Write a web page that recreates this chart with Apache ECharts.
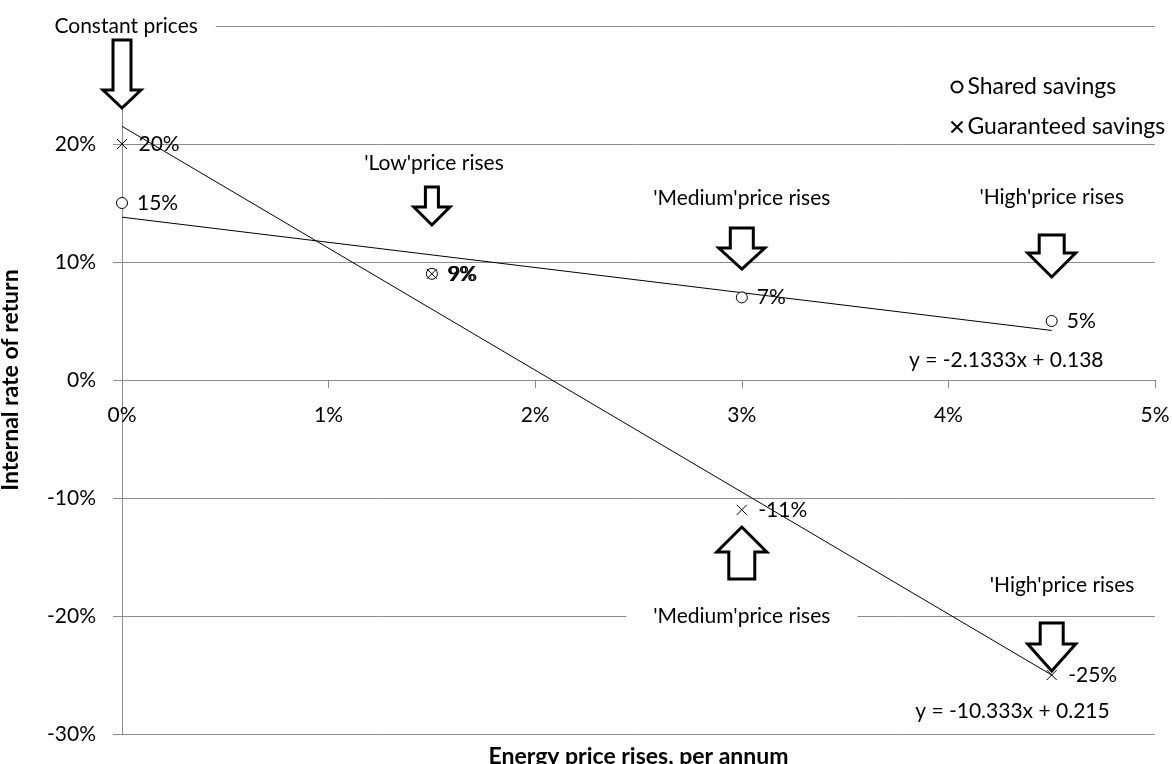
<!DOCTYPE html>
<html>
<head>
<meta charset="utf-8">
<script src="https://cdn.jsdelivr.net/npm/echarts@6/dist/echarts.min.js"></script>
<style>
  html, body { margin: 0; padding: 0; background: #fff; }
  #chart { width: 1172px; height: 764px; }
</style>
</head>
<body>
<div id="chart"></div>
<script>
// Energy price rise scenarios (per annum) and the resulting internal rates of return
const priceRises = [0, 0.015, 0.03, 0.045];
const sharedSavings = [0.15, 0.09, 0.07, 0.05];
const guaranteedSavings = [0.20, 0.09, -0.11, -0.25];

// Linear trend lines as stated by their equations
const sharedTrend = { slope: -2.1333, intercept: 0.138, label: 'y = -2.1333x + 0.138' };
const guaranteedTrend = { slope: -10.333, intercept: 0.215, label: 'y = -10.333x + 0.215' };

// Axis ranges and tick spacing: [min, max, interval]
const yRange = [-0.3, 0.3, 0.1];
const xRange = [0, 0.05, 0.01];

const FONT = 'Lato, "Open Sans", sans-serif';
const TEXT_SIZE = 21;
const LEGEND_SIZE = 23;
const TITLE_SIZE = 23;
const GRID_GREY = '#8c8c8c';
const crossPath = 'path://M0 0L10 10M10 0L0 10';

const pct = v => Math.round(v * 100) + '%';

function trendPoints(t) {
  const x0 = priceRises[0], x1 = priceRises[priceRises.length - 1];
  return [[x0, t.intercept + t.slope * x0], [x1, t.intercept + t.slope * x1]];
}

const chart = echarts.init(document.getElementById('chart'));

const labelStyle = {
  show: true,
  position: 'right',
  distance: 9,
  fontFamily: FONT,
  fontSize: TEXT_SIZE,
  color: '#000',
  opacity: 1,
  formatter: p => pct(p.value[1])
};

chart.setOption({
  animation: false,
  grid: { left: 122, right: 17, top: 26, bottom: 30, outerBoundsMode: 'none', containLabel: false },
  legend: {
    orient: 'vertical',
    left: 944,
    top: 70,
    itemWidth: 11,
    itemHeight: 11,
    itemGap: 16,
    data: ['Shared savings', 'Guaranteed savings'],
    textStyle: { fontFamily: FONT, fontSize: LEGEND_SIZE, lineHeight: 24, color: '#000' }
  },
  xAxis: {
    type: 'value',
    min: xRange[0], max: xRange[1], interval: xRange[2],
    axisLine: { onZero: false, lineStyle: { color: GRID_GREY, width: 1 } },
    axisTick: { show: true, length: 8, lineStyle: { color: GRID_GREY } },
    axisLabel: { margin: 25, formatter: pct, fontFamily: FONT, fontSize: TEXT_SIZE, color: '#000' },
    splitLine: { show: false }
  },
  yAxis: {
    type: 'value',
    min: yRange[0], max: yRange[1], interval: yRange[2],
    name: 'Internal rate of return',
    nameLocation: 'middle',
    nameGap: 100,
    nameTextStyle: { fontFamily: FONT, fontSize: TITLE_SIZE, fontWeight: 'bold', color: '#000' },
    axisLine: { show: true, lineStyle: { color: GRID_GREY, width: 1 } },
    axisTick: { show: true, length: 9, lineStyle: { color: GRID_GREY } },
    axisLabel: {
      margin: 26,
      fontFamily: FONT, fontSize: TEXT_SIZE, color: '#000',
      formatter: v => (Math.abs(v - yRange[1]) < 1e-9 ? '' : pct(v))
    },
    splitLine: { show: true, lineStyle: { color: GRID_GREY, width: 1 } }
  },
  series: [
    {
      name: 'Shared savings trend',
      type: 'line',
      data: trendPoints(sharedTrend),
      showSymbol: false,
      silent: true,
      lineStyle: { color: '#000', width: 1 },
      z: 3
    },
    {
      name: 'Guaranteed savings trend',
      type: 'line',
      data: trendPoints(guaranteedTrend),
      showSymbol: false,
      silent: true,
      lineStyle: { color: '#000', width: 1 },
      z: 3
    },
    {
      name: 'Shared savings',
      type: 'scatter',
      data: priceRises.map((x, i) => [x, sharedSavings[i]]),
      symbol: 'circle',
      symbolSize: 11,
      itemStyle: { color: '#fff', borderColor: '#000', borderWidth: 1, opacity: 1 },
      label: labelStyle,
      z: 4
    },
    {
      name: 'Guaranteed savings',
      type: 'scatter',
      data: priceRises.map((x, i) => [x, guaranteedSavings[i]]),
      symbol: crossPath,
      symbolSize: 10,
      itemStyle: { color: 'none', borderColor: '#000', borderWidth: 1, opacity: 1 },
      label: labelStyle,
      z: 5
    }
  ]
});

// Move the horizontal axis up so it crosses the vertical axis at 0%
const zeroPx = chart.convertToPixel({ gridIndex: 0 }, [0, 0])[1];
const bottomPx = chart.convertToPixel({ gridIndex: 0 }, [0, yRange[0]])[1];
chart.setOption({ xAxis: { offset: -(bottomPx - zeroPx) } });

// Scenario callouts: hollow block arrows and their captions, anchored in data space
const arrows = [
  { x: 0,     tipY: 0.2305, dir: 'down', len: 68, head: 18, headHalf: 19, shaftHalf: 9 },
  { x: 0.015, tipY: 0.1314, dir: 'down', len: 38, head: 18, headHalf: 18, shaftHalf: 6.5 },
  { x: 0.03,  tipY: 0.094,  dir: 'down', len: 41, head: 21, headHalf: 23, shaftHalf: 11.5 },
  { x: 0.045, tipY: 0.0873, dir: 'down', len: 42, head: 24, headHalf: 24, shaftHalf: 12.5 },
  { x: 0.03,  tipY: -0.1246, dir: 'up',  len: 52, head: 25, headHalf: 25, shaftHalf: 13 },
  { x: 0.045, tipY: -0.2466, dir: 'down', len: 48, head: 27, headHalf: 24, shaftHalf: 11.5 }
];

const captions = [
  { text: 'Constant prices',        x: 0.0002, y: 0.300,  pad: [2, 18], bg: true },
  { text: "'Low'price rises",       x: 0.0151, y: 0.184,  pad: [2, 6],  bg: false },
  { text: "'Medium'price rises",    x: 0.0300, y: 0.154,  pad: [2, 6],  bg: false },
  { text: "'High'price rises",      x: 0.0450, y: 0.155,  pad: [2, 6],  bg: false },
  { text: "'Medium'price rises",    x: 0.0300, y: -0.200, pad: [2, 27], bg: true },
  { text: "'High'price rises",      x: 0.0455, y: -0.174, pad: [2, 6],  bg: false },
  { text: sharedTrend.label,        x: 0.0428, y: 0.017,  pad: [2, 6],  bg: false },
  { text: guaranteedTrend.label,    x: 0.0431, y: -0.281, pad: [2, 6],  bg: false }
];

function arrowPoints(a) {
  const [tx, ty] = chart.convertToPixel({ gridIndex: 0 }, [a.x, a.tipY]);
  const s = a.dir === 'down' ? -1 : 1; // direction from the tip back towards the tail
  const hy = ty + s * a.head;
  const by = ty + s * a.len;
  return [
    [tx, ty],
    [tx + a.headHalf, hy],
    [tx + a.shaftHalf, hy],
    [tx + a.shaftHalf, by],
    [tx - a.shaftHalf, by],
    [tx - a.shaftHalf, hy],
    [tx - a.headHalf, hy]
  ];
}

const graphics = [];
captions.forEach(c => {
  const [px, py] = chart.convertToPixel({ gridIndex: 0 }, [c.x, c.y]);
  graphics.push({
    type: 'text',
    x: px, y: py,
    z: 50,
    style: {
      text: c.text,
      fontFamily: FONT,
      fontSize: TEXT_SIZE,
      fill: '#000',
      align: 'center',
      verticalAlign: 'middle',
      backgroundColor: c.bg ? '#fff' : 'transparent',
      padding: c.pad
    }
  });
});
arrows.forEach(a => {
  graphics.push({
    type: 'polygon',
    z: 60,
    shape: { points: arrowPoints(a) },
    style: { fill: '#fff', stroke: '#000', lineWidth: 3, lineJoin: 'miter' }
  });
});

// Horizontal axis title below the plot
const [cx] = chart.convertToPixel({ gridIndex: 0 }, [(xRange[0] + xRange[1]) / 2, 0]);
graphics.push({
  type: 'text',
  x: cx, y: 757,
  z: 50,
  style: {
    text: 'Energy price rises, per annum',
    fontFamily: FONT, fontSize: TITLE_SIZE, fontWeight: 'bold', fill: '#000',
    align: 'center', verticalAlign: 'middle'
  }
});

chart.setOption({ graphic: graphics });
</script>
</body>
</html>
